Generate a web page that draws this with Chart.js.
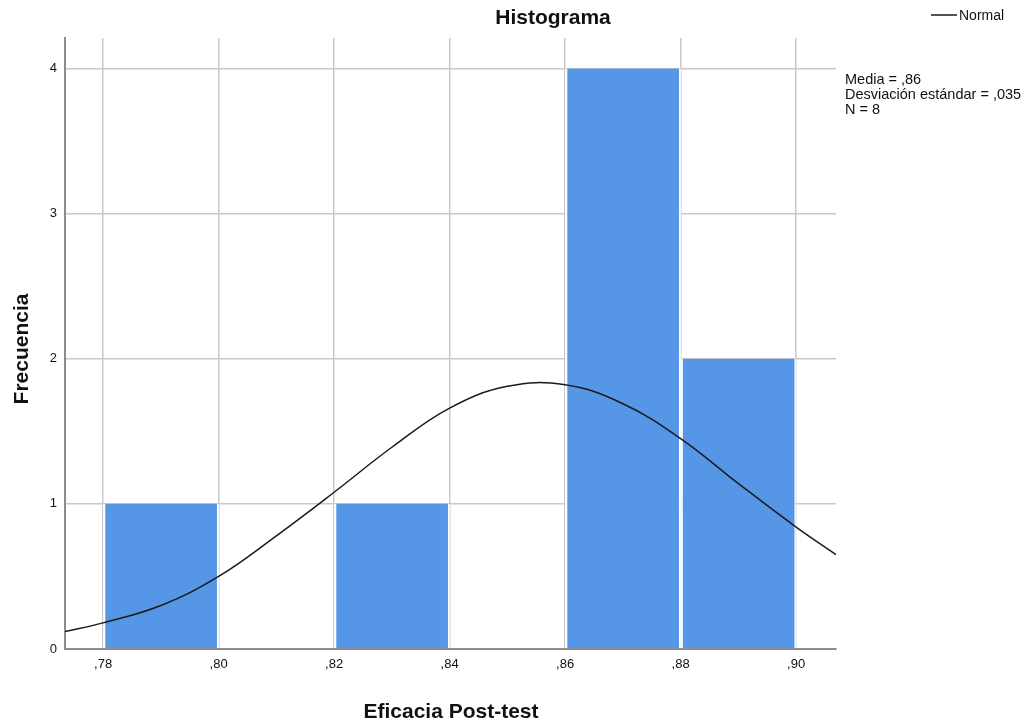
<!DOCTYPE html>
<html>
<head>
<meta charset="utf-8">
<script src="https://cdn.jsdelivr.net/npm/chart.js@4.4.1/dist/chart.umd.min.js"></script>
<style>
  html, body { margin: 0; padding: 0; background: #fff; }
  #wrap { width: 1026px; height: 724px; }
</style>
</head>
<body>
<div id="wrap"><canvas id="c" width="1026" height="724"></canvas></div>
<script>
// Histograma — Eficacia Post-test (SPSS style)

const BIN_CENTERS = [0.79, 0.81, 0.83, 0.85, 0.87, 0.89];
const FREQ = [1, 0, 1, 0, 4, 2];

// curva normal
const CURVE_X = [0.7734, 0.78, 0.79, 0.80, 0.81, 0.82, 0.83, 0.84, 0.85, 0.86, 0.87, 0.88, 0.89, 0.90, 0.9069];
const CURVE_Y = [0.12, 0.18, 0.30, 0.50, 0.78, 1.08, 1.39, 1.66, 1.81, 1.82, 1.69, 1.45, 1.14, 0.84, 0.65];

const X_TICKS = [0.78, 0.80, 0.82, 0.84, 0.86, 0.88, 0.90];
const Y_TICKS = [0, 1, 2, 3, 4];

const STATS = ["Media = ,86", "Desviación estándar = ,035", "N = 8"];

const FONT = "'Liberation Sans', Arial, sans-serif";
const COLORS = {
  bar: "#5596e6",
  barEdge: "rgba(255,255,255,0.8)",
  curve: "#1a1a1a",
  grid: "#c9c9c9",
  axis: "#8c8c8c",
  text: "#111",
};

const textPlugin = {
  id: "spssText",
  afterDraw(chart) {
    const ctx = chart.ctx;
    ctx.save();
    ctx.fillStyle = COLORS.text;
    ctx.textBaseline = "middle";

    // título
    ctx.font = "bold 21px " + FONT;
    ctx.textAlign = "center";
    ctx.fillText("Histograma", 553, 18);

    // título eje x
    ctx.fillText("Eficacia Post-test", 451, 712);

    // título eje y
    ctx.save();
    ctx.translate(22, 349);
    ctx.rotate(-Math.PI / 2);
    ctx.fillText("Frecuencia", 0, 0);
    ctx.restore();

    // leyenda
    ctx.strokeStyle = COLORS.curve;
    ctx.lineWidth = 1.5;
    ctx.beginPath();
    ctx.moveTo(931, 15);
    ctx.lineTo(957, 15);
    ctx.stroke();
    ctx.font = "14px " + FONT;
    ctx.textAlign = "left";
    ctx.fillText("Normal", 959, 16);

    // estadísticos
    ctx.font = "14.5px " + FONT;
    STATS.forEach((s, i) => ctx.fillText(s, 845, 80 + i * 15));
    ctx.restore();
  },
};

new Chart(document.getElementById("c"), {
  data: {
    datasets: [
      {
        type: "line",
        data: CURVE_X.map((x, i) => ({ x, y: CURVE_Y[i] })),
        borderColor: COLORS.curve,
        borderWidth: 1.5,
        pointRadius: 0,
        tension: 0.4,
        fill: false,
      },
      {
        type: "bar",
        data: BIN_CENTERS.map((x, i) => ({ x, y: FREQ[i] })),
        backgroundColor: COLORS.bar,
        borderColor: COLORS.barEdge,
        borderWidth: { left: 2.5, right: 2, top: 0, bottom: 0 },
        borderSkipped: false,
        barPercentage: 1,
        categoryPercentage: 1,
      },
    ],
  },
  options: {
    responsive: false,
    animation: false,
    devicePixelRatio: 1,
    layout: { padding: { top: 38, right: 190, left: 0, bottom: 0 } },
    plugins: { legend: { display: false }, tooltip: { enabled: false } },
    scales: {
      x: {
        type: "linear",
        min: 0.7734,
        max: 0.9069,
        offset: false,
        afterBuildTicks: (s) => { s.ticks = X_TICKS.map((v) => ({ value: v })); },
        afterFit: (s) => { s.height = 75; },
        ticks: {
          font: { family: FONT, size: 13 },
          color: COLORS.text,
          padding: 8,
          maxRotation: 0,
          autoSkip: false,
          callback: (v) => "," + v.toFixed(2).split(".")[1],
        },
        grid: { color: COLORS.grid, lineWidth: 1.5, drawTicks: false, offset: false },
        border: { color: COLORS.axis, width: 2 },
      },
      y: {
        min: 0,
        max: 4.21,
        afterBuildTicks: (s) => { s.ticks = Y_TICKS.map((v) => ({ value: v })); },
        afterFit: (s) => { s.width = 65; },
        ticks: {
          font: { family: FONT, size: 13 },
          color: COLORS.text,
          padding: 8,
        },
        grid: { color: COLORS.grid, lineWidth: 1.5, drawTicks: false },
        border: { color: COLORS.axis, width: 2 },
      },
    },
  },
  plugins: [textPlugin],
});
</script>
</body>
</html>
